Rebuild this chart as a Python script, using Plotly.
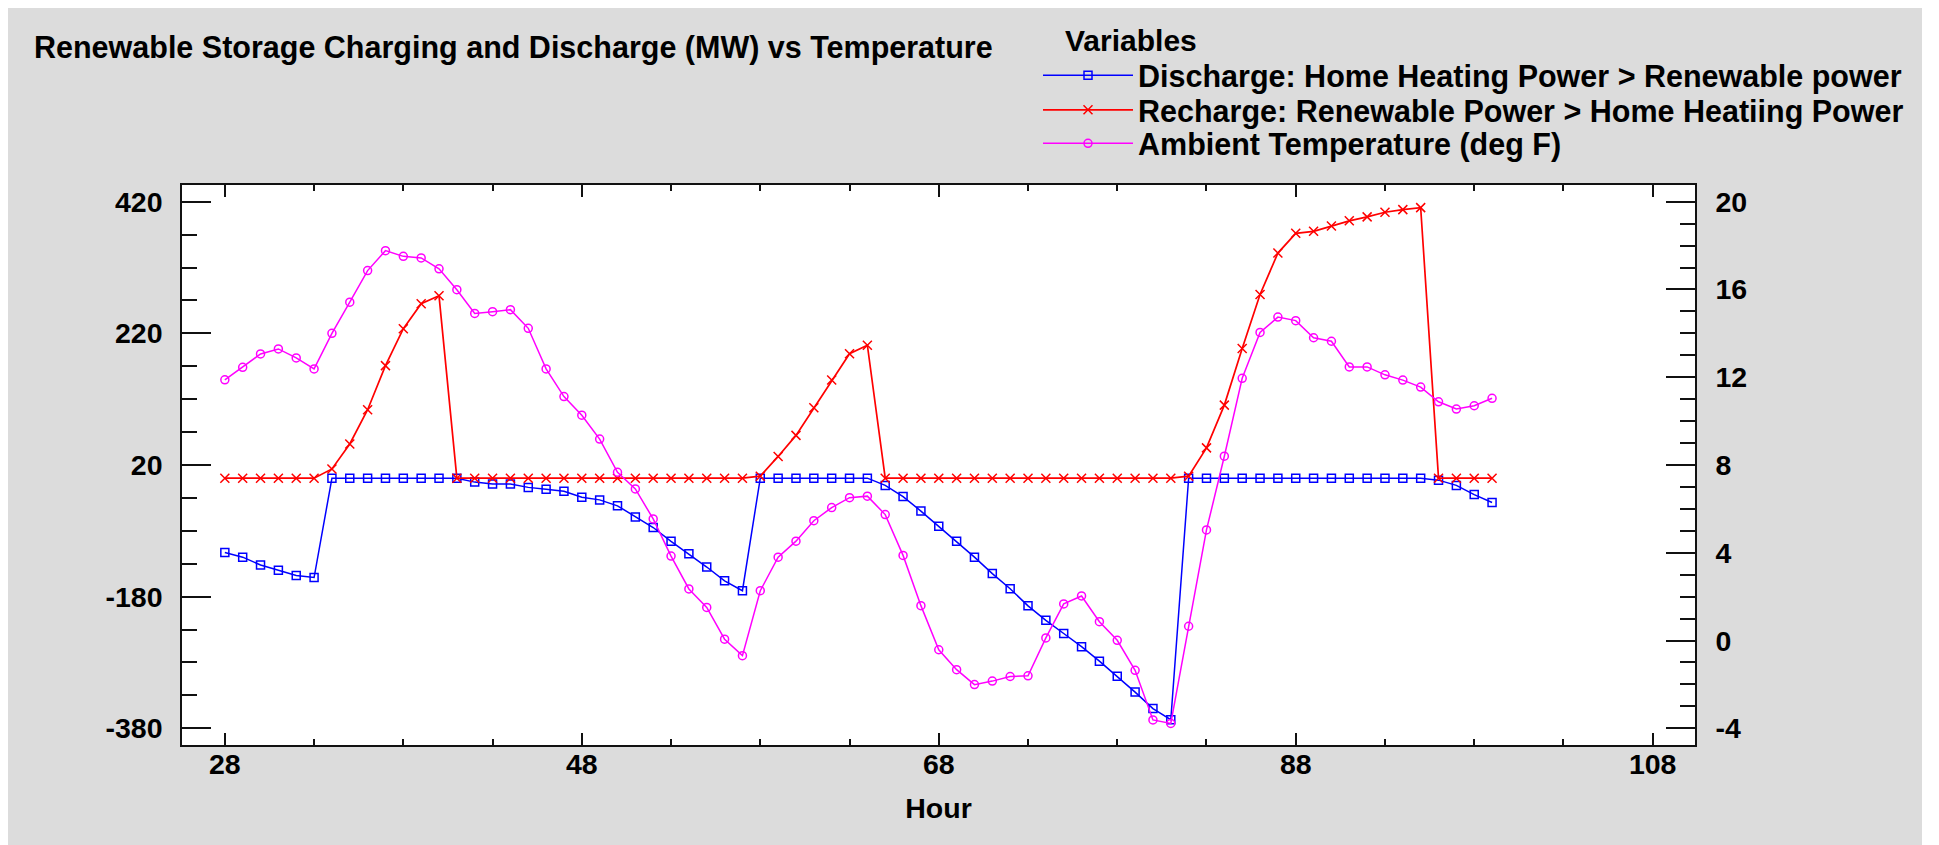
import plotly.graph_objects as go

# ---------------- data ----------------
hours = [28, 29, 30, 31, 32, 33, 34, 35, 36, 37, 38, 39, 40, 41, 42, 43, 44, 45,
         46, 47, 48, 49, 50, 51, 52, 53, 54, 55, 56, 57, 58, 59, 60, 61, 62, 63,
         64, 65, 66, 67, 68, 69, 70, 71, 72, 73, 74, 75, 76, 77, 78, 79, 80, 81,
         82, 83, 84, 85, 86, 87, 88, 89, 90, 91, 92, 93, 94, 95, 96, 97, 98, 99]

discharge_mw = [-113, -120, -132, -140, -148, -151, 0, 0, 0, 0, 0, 0, 0, 0,
                -6, -9, -9, -14, -17, -20, -29, -33, -42, -59, -75, -96, -115,
                -135, -156, -171, 0, 0, 0, 0, 0, 0, 0, -11, -28, -50, -73, -96,
                -120, -145, -168, -194, -216, -236, -256, -278, -301, -325, -350,
                -367, 0, 0, 0, 0, 0, 0, 0, 0, 0, 0, 0, 0, 0, 0, -3, -11, -25, -37]

recharge_mw = [0, 0, 0, 0, 0, 0, 14, 52, 104, 171, 227, 265, 277, 0, 0, 0, 0, 0,
               0, 0, 0, 0, 0, 0, 0, 0, 0, 0, 0, 0, 3, 33, 65, 107, 149, 189,
               202, 0, 0, 0, 0, 0, 0, 0, 0, 0, 0, 0, 0, 0, 0, 0, 0, 0,
               3, 46, 111, 197, 279, 342, 372, 375, 383, 391, 397, 404, 408, 411,
               0, 0, 0, 0]

temperature_f = [11.88, 12.45, 13.06, 13.29, 12.88, 12.38, 14.0, 15.42, 16.86,
                 17.77, 17.51, 17.44, 16.94, 15.99, 14.91, 14.99, 15.08, 14.23,
                 12.38, 11.12, 10.27, 9.18, 7.67, 6.91, 5.54, 3.85, 2.35, 1.51,
                 0.06, -0.69, 2.27, 3.8, 4.53, 5.46, 6.06, 6.51, 6.58, 5.74, 3.88,
                 1.59, -0.42, -1.33, -2.01, -1.85, -1.64, -1.61, 0.12, 1.67, 2.03,
                 0.86, 0.01, -1.36, -3.62, -3.78, 0.65, 5.04, 8.4, 11.95, 14.04,
                 14.74, 14.58, 13.8, 13.64, 12.47, 12.47, 12.11, 11.87, 11.55,
                 10.88, 10.55, 10.70, 11.04]

x_tick_vals = [28, 48, 68, 88, 108]
x_tick_text = ["28", "48", "68", "88", "108"]
left_tick_vals = [-380, -180, 20, 220, 420]
left_tick_text = ["-380", "-180", "20", "220", "420"]
right_tick_vals = [-4, 0, 4, 8, 12, 16, 20]
right_tick_text = ["-4", "0", "4", "8", "12", "16", "20"]

series_names = ["Discharge: Home Heating Power > Renewable power",
                "Recharge: Renewable Power > Home Heatiing Power",
                "Ambient Temperature (deg F)"]

# ---------------- styling ----------------
FONT = "Liberation Sans"
OFF = 8                      # default page body margin
W, H = 1914, 837             # figure size (gray panel 8..1922 x 8..845 on screen)
ML, MR, MT, MB = 174, 227, 177, 100
PW, PH = W - ML - MR, H - MT - MB
BG = "#DCDCDC"
AX = "#111111"
TICK_FS = 28.5
TEXT_FS = 30.5
LEG_ITEM_W = 90


def bold(size=TICK_FS):
    return dict(family=FONT, size=size, color="black", weight="bold")


def px_x(screen_px):
    return (screen_px - OFF - ML) / PW


def px_y(screen_py):
    return (H - MB - (screen_py - OFF)) / PH


fig = go.Figure()
fig.add_trace(go.Scatter(
    x=hours, y=discharge_mw, name=series_names[0], mode="lines+markers", legend="legend",
    line=dict(color="#0000FF", width=1.5),
    marker=dict(symbol="square-open", size=8, color="#0000FF", line=dict(width=1.5, color="#0000FF"))))
fig.add_trace(go.Scatter(
    x=hours, y=recharge_mw, name=series_names[1], mode="lines+markers", legend="legend2",
    line=dict(color="#FF0000", width=1.7),
    marker=dict(symbol="x-thin-open", size=9, color="#FF0000", line=dict(width=1.5, color="#FF0000"))))
fig.add_trace(go.Scatter(
    x=hours, y=temperature_f, name=series_names[2], mode="lines+markers", yaxis="y2",
    legend="legend3",
    line=dict(color="#FF00FF", width=1.5),
    marker=dict(symbol="circle-open", size=8, color="#FF00FF", line=dict(width=1.5, color="#FF00FF"))))

axis_common = dict(showgrid=False, zeroline=False, showline=True, linecolor=AX, linewidth=1.5,
                   ticks="inside", tickcolor=AX, tickwidth=1.5, tickfont=bold(TICK_FS),
                   automargin=False)


def legend_at(center_y):
    return dict(x=px_x(1138 - LEG_ITEM_W - 10), y=px_y(center_y), xanchor="left", yanchor="middle",
                bgcolor="rgba(0,0,0,0)", font=bold(TEXT_FS), itemwidth=LEG_ITEM_W,
                tracegroupgap=0, borderwidth=0)


fig.update_layout(
    width=W, height=H, autosize=False,
    margin=dict(l=ML, r=MR, t=MT, b=MB, pad=0, autoexpand=False),
    paper_bgcolor=BG, plot_bgcolor="white",
    title=dict(text="Renewable Storage Charging and Discharge (MW) vs Temperature",
               font=bold(TEXT_FS), xref="container", yref="container",
               x=(34 - OFF) / W, xanchor="left", y=1 - (47 - OFF) / H, yanchor="middle"),
    xaxis=dict(range=[25.6, 110.37], tickvals=x_tick_vals, ticktext=x_tick_text,
               ticklen=12, mirror="ticks", ticklabelstandoff=-7,
               minor=dict(dtick=5, tick0=28, ticks="inside", ticklen=6, tickwidth=1.5, tickcolor=AX),
               title=dict(text="Hour", font=bold(TICK_FS), standoff=19), **axis_common),
    yaxis=dict(range=[-405.4, 445.4], tickvals=left_tick_vals, ticktext=left_tick_text,
               ticklen=29, ticklabelstandoff=12,
               minor=dict(dtick=50, tick0=20, ticks="inside", ticklen=15, tickwidth=1.5, tickcolor=AX),
               **axis_common),
    yaxis2=dict(range=[-4.762, 20.762], tickvals=right_tick_vals, ticktext=right_tick_text,
                ticklen=29, overlaying="y", side="right", ticklabelstandoff=13,
                minor=dict(dtick=1, tick0=0, ticks="inside", ticklen=15, tickwidth=1.5, tickcolor=AX),
                **axis_common),
    showlegend=True,
    legend=legend_at(75.5),
    legend2=legend_at(110),
    legend3=legend_at(143.5),
    annotations=[dict(text="Variables", xref="paper", yref="paper", x=px_x(1063), y=px_y(40),
                      xanchor="left", yanchor="middle", showarrow=False, font=bold(30))],
)

fig.write_html("out.html")
